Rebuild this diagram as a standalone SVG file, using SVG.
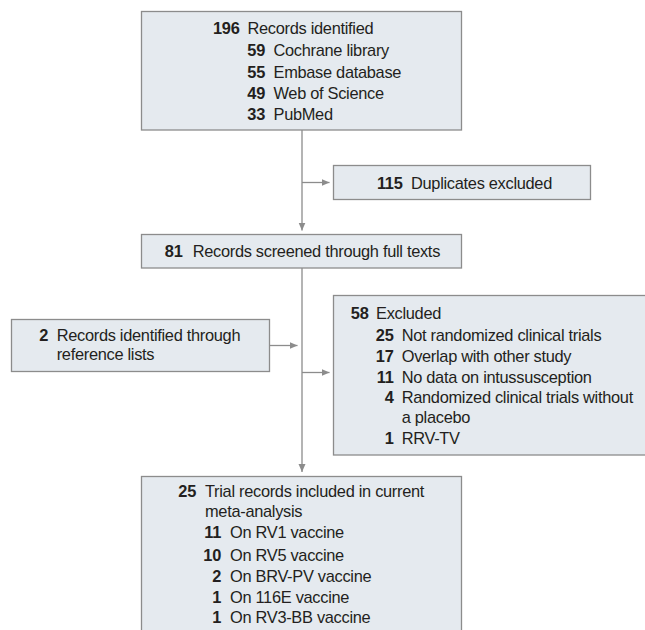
<svg xmlns="http://www.w3.org/2000/svg" width="645" height="630" viewBox="0 0 645 630">
<style>
  .box { fill: #e5eaef; stroke: #8c8c8c; stroke-width: 1.3; }
  .conn { stroke: #8c8c8c; stroke-width: 1.3; fill: none; }
  text { font-family: "Liberation Sans", Arial, sans-serif; font-size: 16.4px; fill: #231f20; letter-spacing: -0.3px; }
  .n { font-weight: bold; text-anchor: end; }
</style>
<defs>
  <marker id="arr" markerUnits="userSpaceOnUse" markerWidth="9" markerHeight="8" refX="8" refY="3.5" orient="auto">
    <path d="M0,0 L8,3.5 L0,7 z" fill="#8c8c8c"/>
  </marker>
</defs>
<rect width="645" height="630" fill="#ffffff"/>
<g id="connectors">
  <line class="conn" x1="302" y1="130" x2="302" y2="230.5" marker-end="url(#arr)"/>
  <line class="conn" x1="302" y1="182.5" x2="329.5" y2="182.5" marker-end="url(#arr)"/>
  <line class="conn" x1="302" y1="268" x2="302" y2="472" marker-end="url(#arr)"/>
  <line class="conn" x1="269.5" y1="345.5" x2="297.5" y2="345.5" marker-end="url(#arr)"/>
  <line class="conn" x1="302" y1="372.5" x2="329.5" y2="372.5" marker-end="url(#arr)"/>
</g>
<g id="records-identified">
  <rect class="box" x="141.5" y="11.5" width="320" height="118.5"/>
  <text class="n" x="239.5" y="34">196</text><text x="247.5" y="34">Records identified</text>
  <text class="n" x="265" y="56">59</text><text x="273.5" y="56">Cochrane library</text>
  <text class="n" x="265" y="77.5">55</text><text x="273.5" y="77.5">Embase database</text>
  <text class="n" x="265" y="98.8">49</text><text x="273.5" y="98.8">Web of Science</text>
  <text class="n" x="265" y="120">33</text><text x="273.5" y="120">PubMed</text>
</g>
<g id="duplicates">
  <rect class="box" x="333.5" y="165.5" width="257" height="34"/>
  <text class="n" x="402.5" y="188.5">115</text><text x="411" y="188.5">Duplicates excluded</text>
</g>
<g id="screened">
  <rect class="box" x="141.5" y="234.5" width="320" height="33.5"/>
  <text class="n" x="182.5" y="257.3">81</text><text x="192.7" y="257.3">Records screened through full texts</text>
</g>
<g id="reference-lists">
  <rect class="box" x="11.5" y="319.5" width="258" height="52"/>
  <text class="n" x="48" y="341">2</text><text x="56.7" y="341">Records identified through</text>
  <text x="56.7" y="360">reference lists</text>
</g>
<g id="excluded">
  <rect class="box" x="333.5" y="295.5" width="320" height="159.5"/>
  <text class="n" x="368.5" y="319.3">58</text><text x="376" y="319.3">Excluded</text>
  <text class="n" x="393.5" y="341">25</text><text x="401.7" y="341">Not randomized clinical trials</text>
  <text class="n" x="393.5" y="361.7">17</text><text x="401.7" y="361.7">Overlap with other study</text>
  <text class="n" x="393.5" y="382.7">11</text><text x="401.7" y="382.7">No data on intussusception</text>
  <text class="n" x="393.5" y="403.3">4</text><text x="401.7" y="403.3">Randomized clinical trials without</text>
  <text x="401.7" y="423.3">a placebo</text>
  <text class="n" x="393.5" y="444.3">1</text><text x="401.7" y="444.3">RRV-TV</text>
</g>
<g id="included">
  <rect class="box" x="141.5" y="476.5" width="320" height="170"/>
  <text class="n" x="196" y="497.3">25</text><text x="205" y="497.3">Trial records included in current</text>
  <text x="205" y="516.7">meta-analysis</text>
  <text class="n" x="221" y="538.3">11</text><text x="230" y="538.3">On RV1 vaccine</text>
  <text class="n" x="221" y="560.7">10</text><text x="230" y="560.7">On RV5 vaccine</text>
  <text class="n" x="221" y="581.7">2</text><text x="230" y="581.7">On BRV-PV vaccine</text>
  <text class="n" x="221" y="602.7">1</text><text x="230" y="602.7">On 116E vaccine</text>
  <text class="n" x="221" y="623.3">1</text><text x="230" y="623.3">On RV3-BB vaccine</text>
</g>
</svg>
